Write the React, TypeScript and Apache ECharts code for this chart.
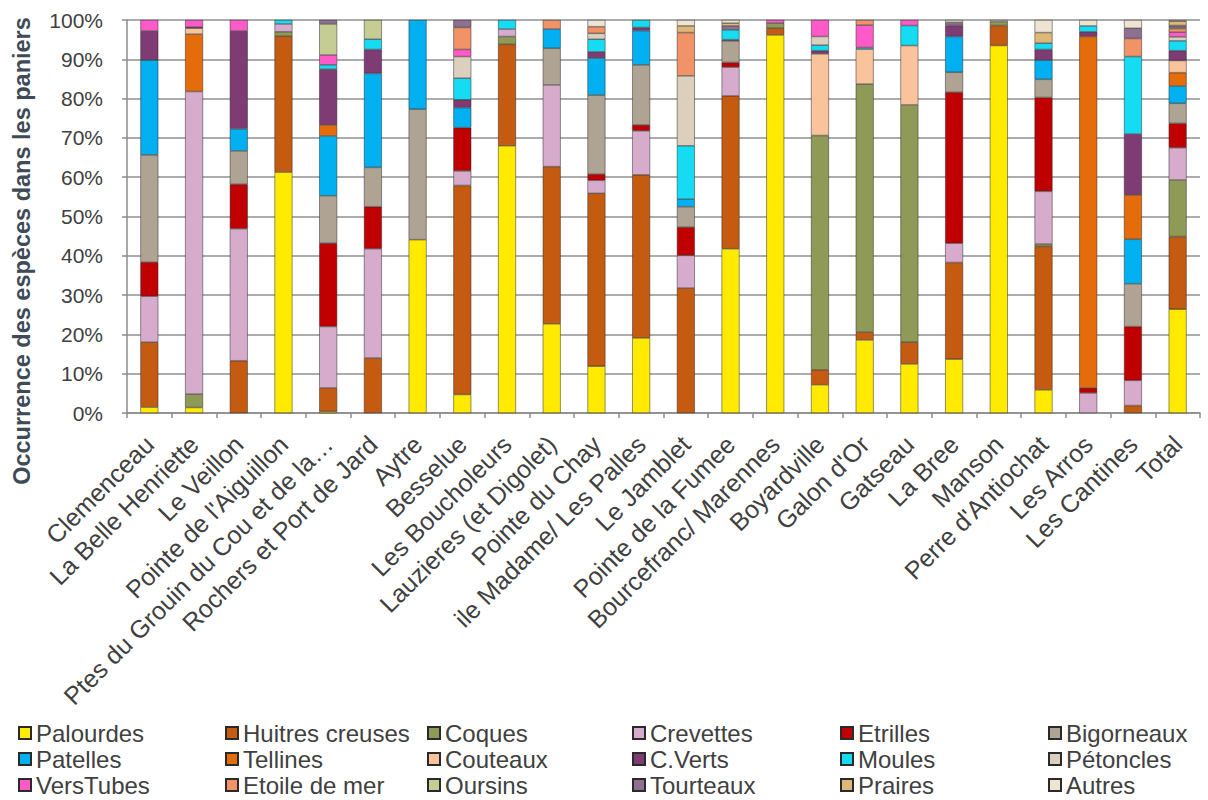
import React, { useEffect, useRef } from "react";
import * as echarts from "echarts";

const categories = [
  "Clemenceau", "La Belle Henriette", "Le Veillon", "Pointe de l'Aiguillon",
  "Ptes du Grouin du Cou et de la…", "Rochers et Port de Jard", "Aytre", "Besselue",
  "Les Boucholeurs", "Lauzieres (et Digolet)", "Pointe du Chay", "ile Madame/ Les Palles",
  "Le Jamblet", "Pointe de la Fumee", "Bourcefranc/ Marennes", "Boyardville",
  "Galon d'Or", "Gatseau", "La Bree", "Manson", "Perre d'Antiochat", "Les Arros",
  "Les Cantines", "Total",
];

const palourdes = [1.5, 1.4, 0, 61.3, 0.4, 0, 44.1, 4.7, 68, 22.7, 11.9, 19.1, 0, 41.8, 96.2, 7.2, 18.6, 12.5, 13.7, 93.5, 5.9, 0, 0, 26.4];
const huitres = [16.5, 0, 13.3, 34.6, 6, 14, 0, 53.2, 25.8, 40, 44, 41.5, 31.8, 38.9, 1.7, 3.8, 2, 5.5, 24.6, 5.1, 36.5, 0, 1.9, 18.5];
const coques = [0, 3.4, 0, 1.1, 0, 0, 0, 0, 2, 0, 0, 0, 0, 0, 1.3, 59.6, 63.1, 60.4, 0, 1.0, 0.6, 0, 0, 14.4];
const crevettes = [11.7, 77, 33.6, 2, 15.6, 27.8, 0, 3.7, 1.9, 20.8, 3.3, 11.2, 8.3, 7.3, 0, 0, 0, 0, 4.9, 0, 13.4, 5.1, 6.4, 8.2];
const etrilles = [8.7, 0, 11.3, 0, 21.2, 10.7, 0, 11, 0, 0, 1.6, 1.5, 7.2, 1.2, 0, 0, 0, 0, 38.4, 0, 23.9, 1.3, 13.7, 6.2];
const bigorneaux = [27.3, 0, 8.5, 0, 12.1, 10, 33.2, 0, 0, 9.3, 20.1, 15.3, 5.2, 5.5, 0, 0, 0, 0, 5.1, 0, 4.6, 0, 10.9, 5.1];
const patelles = [24.1, 0, 5.6, 0, 15.2, 23.9, 22.7, 5.1, 0, 4.9, 9.4, 8.7, 1.9, 0, 0, 0, 0, 0, 9.1, 0, 4.9, 0, 11.3, 4.4];
const tellines = [0, 14.6, 0, 0, 2.8, 0, 0, 0, 0, 0, 0, 0, 0, 0, 0, 0, 0, 0, 0, 0, 0, 89.4, 11.3, 3.4];
const couteaux = [0, 1.5, 0, 0, 0, 0, 0, 0, 0, 0, 0, 0, 0, 0, 0, 20.8, 8.9, 15.1, 0, 0, 0, 0, 0, 3.1];
const cverts = [7.4, 0.3, 24.9, 0, 14.2, 6.1, 0, 2, 0, 0, 1.6, 0.8, 0, 0.3, 0, 0.8, 0, 0, 2.8, 0, 2.7, 1.2, 15.5, 2.5];
const moules = [0, 0, 0, 1, 1.1, 2.6, 0, 5.5, 2.3, 0, 3.2, 1.9, 13.6, 2.5, 0, 1.4, 0.4, 5.1, 0, 0, 1.6, 1.5, 19.7, 2.5];
const petoncles = [0, 0, 0, 0, 0, 0, 0, 5.5, 0, 0, 1.5, 0, 17.8, 0, 0, 2.2, 0, 0, 0, 0, 0, 0, 0, 1.0];
const verstubes = [2.8, 1.8, 2.8, 0, 2.5, 0, 0, 1.8, 0, 0, 0, 0, 0, 0, 0.8, 4.2, 5.7, 1.4, 0, 0, 0, 0, 0, 1.2];
const etoile = [0, 0, 0, 0, 0, 0, 0, 5.6, 0, 2.3, 1.7, 0, 11, 0, 0, 0, 1.3, 0, 0, 0, 0, 0, 4.6, 0.9];
const oursins = [0, 0, 0, 0, 7.9, 4.9, 0, 0, 0, 0, 0, 0, 0, 0, 0, 0, 0, 0, 0, 0, 0, 0, 0, 0.3];
const tourteaux = [0, 0, 0, 0, 1, 0, 0, 1.9, 0, 0, 0, 0, 0, 1.0, 0, 0, 0, 0, 0.8, 0, 0, 0, 2.6, 0.5];
const praires = [0, 0, 0, 0, 0, 0, 0, 0, 0, 0, 0, 0, 1.7, 0.7, 0, 0, 0, 0, 0, 0, 2.7, 0, 0, 1.1];
const autres = [0, 0, 0, 0, 0, 0, 0, 0, 0, 0, 1.7, 0, 1.5, 0.8, 0, 0, 0, 0, 0.6, 0.4, 3.2, 1.5, 2.1, 0.3];

const seriesNames = [
  "Palourdes", "Huitres creuses", "Coques", "Crevettes", "Etrilles", "Bigorneaux",
  "Patelles", "Tellines", "Couteaux", "C.Verts", "Moules", "Pétoncles",
  "VersTubes", "Etoile de mer", "Oursins", "Tourteaux", "Praires", "Autres",
];
const seriesData = [
  palourdes, huitres, coques, crevettes, etrilles, bigorneaux,
  patelles, tellines, couteaux, cverts, moules, petoncles,
  verstubes, etoile, oursins, tourteaux, praires, autres,
];
const seriesColors = [
  "#FFEA00", "#C55A11", "#8F9A57", "#D7ABCB", "#C00000", "#AFA393",
  "#00B0F0", "#E46C0A", "#F9C39B", "#7F3B73", "#15DCF2", "#DCCFBE",
  "#FF5AC8", "#F29267", "#C5CD95", "#8F7091", "#DDB878", "#EEE4D2",
];

const legendColumns = [
  ["Palourdes", "Patelles", "VersTubes"],
  ["Huitres creuses", "Tellines", "Etoile de mer"],
  ["Coques", "Couteaux", "Oursins"],
  ["Crevettes", "C.Verts", "Tourteaux"],
  ["Etrilles", "Moules", "Praires"],
  ["Bigorneaux", "Pétoncles", "Autres"],
];
const legendLefts = [18, 225, 427, 632, 840, 1048];

const FONT = "'Liberation Sans', Arial, sans-serif";
const TEXT = "#404040";

export default function App() {
  const ref = useRef<HTMLDivElement>(null);
  useEffect(() => {
    if (!ref.current) return;
    const chart = echarts.init(ref.current, null, { renderer: "svg" });
    const option: any = {
      animation: false,
      backgroundColor: "#ffffff",
      textStyle: { fontFamily: FONT },
      grid: { left: 127, right: 8, top: 20, bottom: 387, containLabel: false },
      graphic: [
        {
          type: "text",
          x: 22,
          y: 251,
          rotation: Math.PI / 2,
          style: {
            text: "Occurrence des espèces dans les paniers",
            fontFamily: FONT,
            fontWeight: "bold",
            fontSize: 23.5,
            fill: "#3E4B57",
            textAlign: "center",
            textVerticalAlign: "middle",
          },
        },
      ],
      xAxis: {
        type: "category",
        data: categories,
        axisLine: { lineStyle: { color: "#8c8c8c", width: 1.5 } },
        axisTick: { show: true, length: 5, lineStyle: { color: "#8c8c8c", width: 1.5 } },
        axisLabel: {
          rotate: 45,
          interval: 0,
          fontSize: 25,
          color: TEXT,
          fontFamily: FONT,
          margin: 27,
        },
      },
      yAxis: {
        type: "value",
        min: 0,
        max: 100,
        interval: 10,
        axisLine: { show: true, lineStyle: { color: "#8c8c8c", width: 1.5 } },
        axisTick: { show: true, length: 5, lineStyle: { color: "#8c8c8c", width: 1.5 } },
        axisLabel: {
          formatter: "{value}%",
          fontSize: 21,
          color: TEXT,
          fontFamily: FONT,
          margin: 24,
        },
        splitLine: { lineStyle: { color: "#909090", width: 1.5 } },
      },
      legend: legendColumns.map((col, i) => ({
        orient: "vertical",
        left: legendLefts[i],
        top: 721,
        padding: 0,
        data: col,
        itemWidth: 12,
        itemHeight: 12,
        itemGap: 2,
        icon: "rect",
        selectedMode: false,
        textStyle: {
          fontSize: 24,
          lineHeight: 24,
          color: TEXT,
          fontFamily: FONT,
        },
      })),
      series: seriesNames.map((name, i) => ({
        name,
        type: "bar",
        stack: "total",
        barWidth: "40%",
        data: seriesData[i].map((v) => (v === 0 ? null : v)),
        itemStyle: {
          color: seriesColors[i],
          borderColor: "#2a2a2a",
          borderWidth: 0.5,
        },
      })),
    };
    chart.setOption(option);
    return () => chart.dispose();
  }, []);
  return (
    <div
      ref={ref}
      style={{ position: "fixed", left: 0, top: 0, width: 1208, height: 800, background: "#fff" }}
    />
  );
}
